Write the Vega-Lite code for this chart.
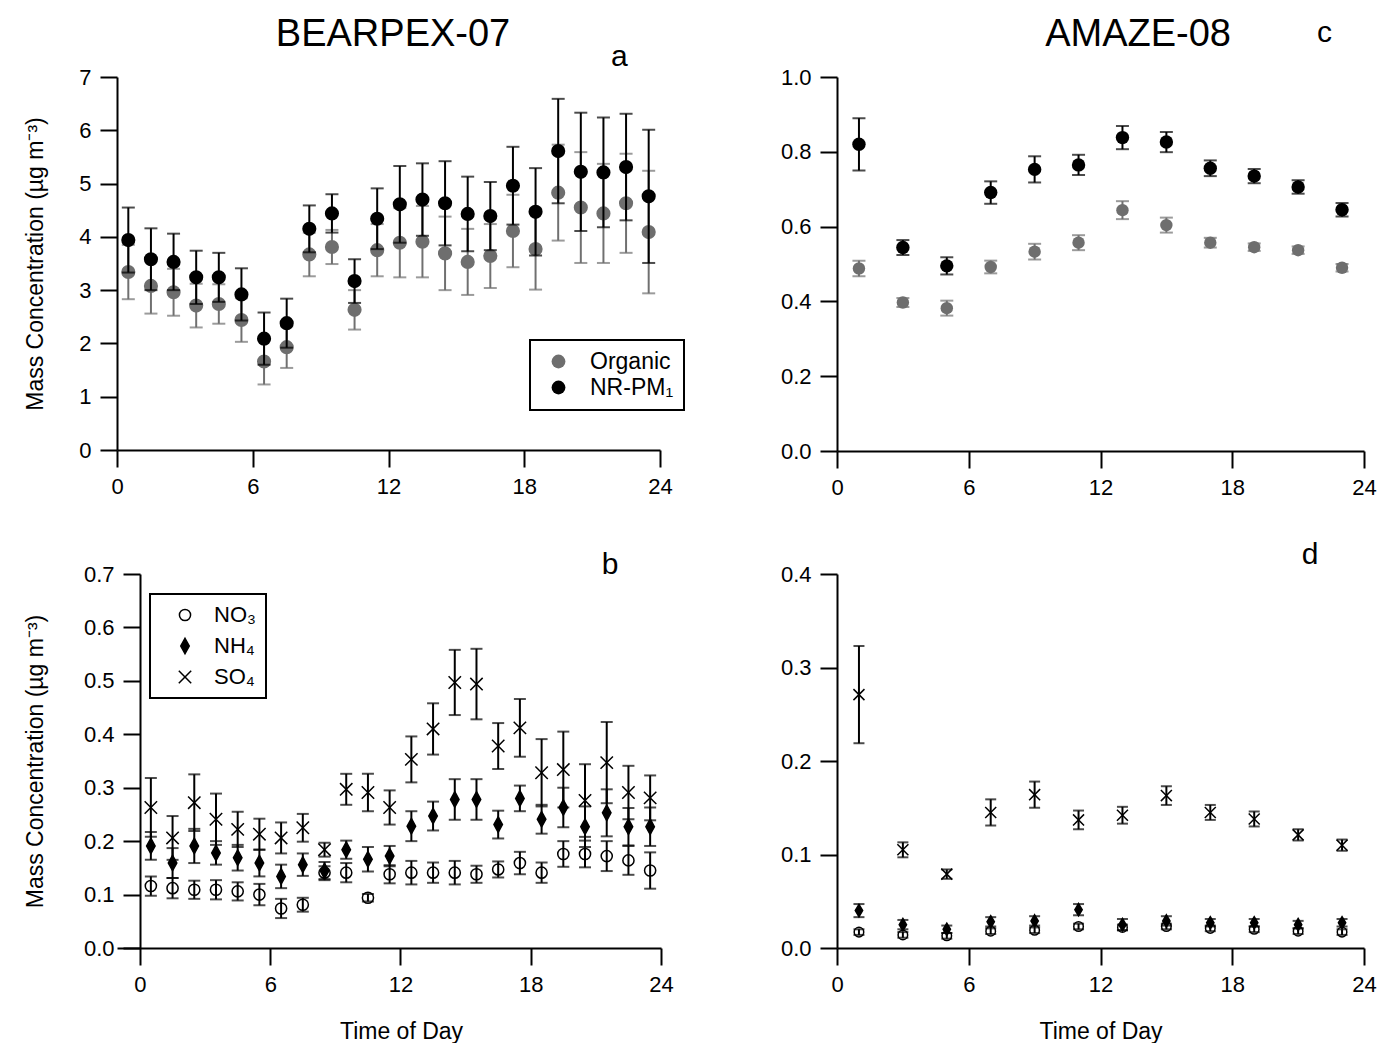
{
  "$schema": "https://vega.github.io/schema/vega-lite/v6.json",
  "padding": {"left": 24, "top": 15, "right": 0, "bottom": 0},
  "background": "white",
  "config": {
    "font": "Liberation Sans",
    "view": {"stroke": null},
    "axis": {"domainColor": "black", "domainWidth": 2, "tickColor": "black", "tickWidth": 2, "tickSize": 17, "labelFontSize": 22, "labelColor": "black", "labelPadding": 9, "labelFlush": false, "labelOverlap": false, "titleFontSize": 23, "titleFontWeight": "normal", "titleColor": "black", "grid": false},
    "legend": {"labelColor": "black", "strokeColor": "black", "strokeWidth": 2, "padding": 10, "title": null}
  },
  "datasets": {
    "pa": [
      {"series": "Organic", "hour": 0.5, "value": 3.34, "err": 0.51},
      {"series": "Organic", "hour": 1.5, "value": 3.08, "err": 0.52},
      {"series": "Organic", "hour": 2.5, "value": 2.96, "err": 0.44},
      {"series": "Organic", "hour": 3.5, "value": 2.71, "err": 0.41},
      {"series": "Organic", "hour": 4.5, "value": 2.74, "err": 0.37},
      {"series": "Organic", "hour": 5.5, "value": 2.44, "err": 0.41},
      {"series": "Organic", "hour": 6.5, "value": 1.66, "err": 0.43},
      {"series": "Organic", "hour": 7.5, "value": 1.93, "err": 0.39},
      {"series": "Organic", "hour": 8.5, "value": 3.67, "err": 0.41},
      {"series": "Organic", "hour": 9.5, "value": 3.81, "err": 0.32},
      {"series": "Organic", "hour": 10.5, "value": 2.63, "err": 0.37},
      {"series": "Organic", "hour": 11.5, "value": 3.75, "err": 0.49},
      {"series": "Organic", "hour": 12.5, "value": 3.89, "err": 0.65},
      {"series": "Organic", "hour": 13.5, "value": 3.91, "err": 0.67},
      {"series": "Organic", "hour": 14.5, "value": 3.69, "err": 0.69},
      {"series": "Organic", "hour": 15.5, "value": 3.53, "err": 0.62},
      {"series": "Organic", "hour": 16.5, "value": 3.64, "err": 0.60},
      {"series": "Organic", "hour": 17.5, "value": 4.11, "err": 0.68},
      {"series": "Organic", "hour": 18.5, "value": 3.77, "err": 0.76},
      {"series": "Organic", "hour": 19.5, "value": 4.83, "err": 0.90},
      {"series": "Organic", "hour": 20.5, "value": 4.55, "err": 1.04},
      {"series": "Organic", "hour": 21.5, "value": 4.44, "err": 0.93},
      {"series": "Organic", "hour": 22.5, "value": 4.63, "err": 0.93},
      {"series": "Organic", "hour": 23.5, "value": 4.09, "err": 1.15},
      {"series": "NR-PM₁", "hour": 0.5, "value": 3.94, "err": 0.61},
      {"series": "NR-PM₁", "hour": 1.5, "value": 3.58, "err": 0.58},
      {"series": "NR-PM₁", "hour": 2.5, "value": 3.53, "err": 0.53},
      {"series": "NR-PM₁", "hour": 3.5, "value": 3.24, "err": 0.50},
      {"series": "NR-PM₁", "hour": 4.5, "value": 3.24, "err": 0.46},
      {"series": "NR-PM₁", "hour": 5.5, "value": 2.92, "err": 0.49},
      {"series": "NR-PM₁", "hour": 6.5, "value": 2.09, "err": 0.49},
      {"series": "NR-PM₁", "hour": 7.5, "value": 2.38, "err": 0.46},
      {"series": "NR-PM₁", "hour": 8.5, "value": 4.15, "err": 0.44},
      {"series": "NR-PM₁", "hour": 9.5, "value": 4.44, "err": 0.36},
      {"series": "NR-PM₁", "hour": 10.5, "value": 3.17, "err": 0.41},
      {"series": "NR-PM₁", "hour": 11.5, "value": 4.34, "err": 0.57},
      {"series": "NR-PM₁", "hour": 12.5, "value": 4.61, "err": 0.72},
      {"series": "NR-PM₁", "hour": 13.5, "value": 4.70, "err": 0.68},
      {"series": "NR-PM₁", "hour": 14.5, "value": 4.63, "err": 0.79},
      {"series": "NR-PM₁", "hour": 15.5, "value": 4.43, "err": 0.70},
      {"series": "NR-PM₁", "hour": 16.5, "value": 4.39, "err": 0.64},
      {"series": "NR-PM₁", "hour": 17.5, "value": 4.96, "err": 0.73},
      {"series": "NR-PM₁", "hour": 18.5, "value": 4.47, "err": 0.82},
      {"series": "NR-PM₁", "hour": 19.5, "value": 5.61, "err": 0.98},
      {"series": "NR-PM₁", "hour": 20.5, "value": 5.22, "err": 1.11},
      {"series": "NR-PM₁", "hour": 21.5, "value": 5.21, "err": 1.03},
      {"series": "NR-PM₁", "hour": 22.5, "value": 5.31, "err": 1.00},
      {"series": "NR-PM₁", "hour": 23.5, "value": 4.76, "err": 1.25}
    ],
    "pb": [
      {"species": "NO₃", "hour": 0.5, "value": 0.116, "err": 0.018},
      {"species": "NO₃", "hour": 1.5, "value": 0.112, "err": 0.019},
      {"species": "NO₃", "hour": 2.5, "value": 0.109, "err": 0.017},
      {"species": "NO₃", "hour": 3.5, "value": 0.109, "err": 0.018},
      {"species": "NO₃", "hour": 4.5, "value": 0.106, "err": 0.017},
      {"species": "NO₃", "hour": 5.5, "value": 0.100, "err": 0.020},
      {"species": "NO₃", "hour": 6.5, "value": 0.074, "err": 0.018},
      {"species": "NO₃", "hour": 7.5, "value": 0.081, "err": 0.013},
      {"species": "NO₃", "hour": 8.5, "value": 0.141, "err": 0.012},
      {"species": "NO₃", "hour": 9.5, "value": 0.141, "err": 0.018},
      {"species": "NO₃", "hour": 10.5, "value": 0.094, "err": 0.007},
      {"species": "NO₃", "hour": 11.5, "value": 0.138, "err": 0.017},
      {"species": "NO₃", "hour": 12.5, "value": 0.141, "err": 0.022},
      {"species": "NO₃", "hour": 13.5, "value": 0.141, "err": 0.019},
      {"species": "NO₃", "hour": 14.5, "value": 0.141, "err": 0.022},
      {"species": "NO₃", "hour": 15.5, "value": 0.138, "err": 0.016},
      {"species": "NO₃", "hour": 16.5, "value": 0.147, "err": 0.015},
      {"species": "NO₃", "hour": 17.5, "value": 0.159, "err": 0.021},
      {"species": "NO₃", "hour": 18.5, "value": 0.141, "err": 0.019},
      {"species": "NO₃", "hour": 19.5, "value": 0.176, "err": 0.024},
      {"species": "NO₃", "hour": 20.5, "value": 0.176, "err": 0.025},
      {"species": "NO₃", "hour": 21.5, "value": 0.172, "err": 0.028},
      {"species": "NO₃", "hour": 22.5, "value": 0.164, "err": 0.027},
      {"species": "NO₃", "hour": 23.5, "value": 0.145, "err": 0.034},
      {"species": "NH₄", "hour": 0.5, "value": 0.191, "err": 0.026},
      {"species": "NH₄", "hour": 1.5, "value": 0.159, "err": 0.028},
      {"species": "NH₄", "hour": 2.5, "value": 0.191, "err": 0.032},
      {"species": "NH₄", "hour": 3.5, "value": 0.178, "err": 0.022},
      {"species": "NH₄", "hour": 4.5, "value": 0.169, "err": 0.024},
      {"species": "NH₄", "hour": 5.5, "value": 0.159, "err": 0.025},
      {"species": "NH₄", "hour": 6.5, "value": 0.134, "err": 0.022},
      {"species": "NH₄", "hour": 7.5, "value": 0.156, "err": 0.021},
      {"species": "NH₄", "hour": 8.5, "value": 0.144, "err": 0.017},
      {"species": "NH₄", "hour": 9.5, "value": 0.184, "err": 0.017},
      {"species": "NH₄", "hour": 10.5, "value": 0.166, "err": 0.023},
      {"species": "NH₄", "hour": 11.5, "value": 0.172, "err": 0.019},
      {"species": "NH₄", "hour": 12.5, "value": 0.228, "err": 0.028},
      {"species": "NH₄", "hour": 13.5, "value": 0.247, "err": 0.027},
      {"species": "NH₄", "hour": 14.5, "value": 0.278, "err": 0.038},
      {"species": "NH₄", "hour": 15.5, "value": 0.278, "err": 0.038},
      {"species": "NH₄", "hour": 16.5, "value": 0.231, "err": 0.026},
      {"species": "NH₄", "hour": 17.5, "value": 0.280, "err": 0.024},
      {"species": "NH₄", "hour": 18.5, "value": 0.241, "err": 0.027},
      {"species": "NH₄", "hour": 19.5, "value": 0.263, "err": 0.037},
      {"species": "NH₄", "hour": 20.5, "value": 0.227, "err": 0.038},
      {"species": "NH₄", "hour": 21.5, "value": 0.253, "err": 0.044},
      {"species": "NH₄", "hour": 22.5, "value": 0.227, "err": 0.035},
      {"species": "NH₄", "hour": 23.5, "value": 0.227, "err": 0.036},
      {"species": "SO₄", "hour": 0.5, "value": 0.263, "err": 0.055},
      {"species": "SO₄", "hour": 1.5, "value": 0.206, "err": 0.041},
      {"species": "SO₄", "hour": 2.5, "value": 0.272, "err": 0.053},
      {"species": "SO₄", "hour": 3.5, "value": 0.241, "err": 0.048},
      {"species": "SO₄", "hour": 4.5, "value": 0.222, "err": 0.033},
      {"species": "SO₄", "hour": 5.5, "value": 0.213, "err": 0.029},
      {"species": "SO₄", "hour": 6.5, "value": 0.206, "err": 0.029},
      {"species": "SO₄", "hour": 7.5, "value": 0.225, "err": 0.026},
      {"species": "SO₄", "hour": 8.5, "value": 0.184, "err": 0.013},
      {"species": "SO₄", "hour": 9.5, "value": 0.297, "err": 0.029},
      {"species": "SO₄", "hour": 10.5, "value": 0.291, "err": 0.035},
      {"species": "SO₄", "hour": 11.5, "value": 0.263, "err": 0.032},
      {"species": "SO₄", "hour": 12.5, "value": 0.353, "err": 0.043},
      {"species": "SO₄", "hour": 13.5, "value": 0.410, "err": 0.048},
      {"species": "SO₄", "hour": 14.5, "value": 0.497, "err": 0.061},
      {"species": "SO₄", "hour": 15.5, "value": 0.494, "err": 0.066},
      {"species": "SO₄", "hour": 16.5, "value": 0.378, "err": 0.043},
      {"species": "SO₄", "hour": 17.5, "value": 0.412, "err": 0.054},
      {"species": "SO₄", "hour": 18.5, "value": 0.328, "err": 0.063},
      {"species": "SO₄", "hour": 19.5, "value": 0.334, "err": 0.071},
      {"species": "SO₄", "hour": 20.5, "value": 0.276, "err": 0.068},
      {"species": "SO₄", "hour": 21.5, "value": 0.347, "err": 0.076},
      {"species": "SO₄", "hour": 22.5, "value": 0.291, "err": 0.050},
      {"species": "SO₄", "hour": 23.5, "value": 0.281, "err": 0.042}
    ],
    "pc": [
      {"series": "Organic", "hour": 1, "value": 0.488, "err": 0.021},
      {"series": "Organic", "hour": 3, "value": 0.397, "err": 0.012},
      {"series": "Organic", "hour": 5, "value": 0.382, "err": 0.020},
      {"series": "Organic", "hour": 7, "value": 0.492, "err": 0.017},
      {"series": "Organic", "hour": 9, "value": 0.533, "err": 0.021},
      {"series": "Organic", "hour": 11, "value": 0.557, "err": 0.020},
      {"series": "Organic", "hour": 13, "value": 0.644, "err": 0.024},
      {"series": "Organic", "hour": 15, "value": 0.604, "err": 0.020},
      {"series": "Organic", "hour": 17, "value": 0.557, "err": 0.013},
      {"series": "Organic", "hour": 19, "value": 0.545, "err": 0.010},
      {"series": "Organic", "hour": 21, "value": 0.537, "err": 0.010},
      {"series": "Organic", "hour": 23, "value": 0.490, "err": 0.010},
      {"series": "NR-PM₁", "hour": 1, "value": 0.820, "err": 0.070},
      {"series": "NR-PM₁", "hour": 3, "value": 0.544, "err": 0.020},
      {"series": "NR-PM₁", "hour": 5, "value": 0.495, "err": 0.023},
      {"series": "NR-PM₁", "hour": 7, "value": 0.691, "err": 0.030},
      {"series": "NR-PM₁", "hour": 9, "value": 0.753, "err": 0.035},
      {"series": "NR-PM₁", "hour": 11, "value": 0.765, "err": 0.027},
      {"series": "NR-PM₁", "hour": 13, "value": 0.838, "err": 0.031},
      {"series": "NR-PM₁", "hour": 15, "value": 0.826, "err": 0.027},
      {"series": "NR-PM₁", "hour": 17, "value": 0.756, "err": 0.021},
      {"series": "NR-PM₁", "hour": 19, "value": 0.735, "err": 0.019},
      {"series": "NR-PM₁", "hour": 21, "value": 0.706, "err": 0.018},
      {"series": "NR-PM₁", "hour": 23, "value": 0.645, "err": 0.018}
    ],
    "pd": [
      {"species": "NO₃", "hour": 1, "value": 0.017, "err": 0.003},
      {"species": "NO₃", "hour": 3, "value": 0.014, "err": 0.003},
      {"species": "NO₃", "hour": 5, "value": 0.013, "err": 0.003},
      {"species": "NO₃", "hour": 7, "value": 0.018, "err": 0.003},
      {"species": "NO₃", "hour": 9, "value": 0.019, "err": 0.003},
      {"species": "NO₃", "hour": 11, "value": 0.023, "err": 0.003},
      {"species": "NO₃", "hour": 13, "value": 0.022, "err": 0.003},
      {"species": "NO₃", "hour": 15, "value": 0.023, "err": 0.003},
      {"species": "NO₃", "hour": 17, "value": 0.021, "err": 0.003},
      {"species": "NO₃", "hour": 19, "value": 0.020, "err": 0.003},
      {"species": "NO₃", "hour": 21, "value": 0.018, "err": 0.003},
      {"species": "NO₃", "hour": 23, "value": 0.017, "err": 0.003},
      {"species": "NH₄", "hour": 1, "value": 0.040, "err": 0.007},
      {"species": "NH₄", "hour": 3, "value": 0.025, "err": 0.005},
      {"species": "NH₄", "hour": 5, "value": 0.020, "err": 0.004},
      {"species": "NH₄", "hour": 7, "value": 0.028, "err": 0.005},
      {"species": "NH₄", "hour": 9, "value": 0.029, "err": 0.005},
      {"species": "NH₄", "hour": 11, "value": 0.041, "err": 0.006},
      {"species": "NH₄", "hour": 13, "value": 0.025, "err": 0.006},
      {"species": "NH₄", "hour": 15, "value": 0.029, "err": 0.005},
      {"species": "NH₄", "hour": 17, "value": 0.027, "err": 0.004},
      {"species": "NH₄", "hour": 19, "value": 0.027, "err": 0.004},
      {"species": "NH₄", "hour": 21, "value": 0.025, "err": 0.004},
      {"species": "NH₄", "hour": 23, "value": 0.027, "err": 0.004},
      {"species": "SO₄", "hour": 1, "value": 0.271, "err": 0.052},
      {"species": "SO₄", "hour": 3, "value": 0.105, "err": 0.008},
      {"species": "SO₄", "hour": 5, "value": 0.079, "err": 0.005},
      {"species": "SO₄", "hour": 7, "value": 0.145, "err": 0.014},
      {"species": "SO₄", "hour": 9, "value": 0.164, "err": 0.014},
      {"species": "SO₄", "hour": 11, "value": 0.137, "err": 0.010},
      {"species": "SO₄", "hour": 13, "value": 0.142, "err": 0.009},
      {"species": "SO₄", "hour": 15, "value": 0.163, "err": 0.010},
      {"species": "SO₄", "hour": 17, "value": 0.145, "err": 0.008},
      {"species": "SO₄", "hour": 19, "value": 0.138, "err": 0.008},
      {"species": "SO₄", "hour": 21, "value": 0.121, "err": 0.006},
      {"species": "SO₄", "hour": 23, "value": 0.110, "err": 0.006}
    ]
  },
  "spacing": 95,
  "resolve": {"scale": {"color": "independent", "shape": "independent", "fill": "independent"}},
  "hconcat": [
    {
      "spacing": 53,
      "resolve": {"scale": {"color": "independent", "shape": "independent", "fill": "independent"}},
      "vconcat": [
        {
          "width": 543, "height": 373,
          "data": {"name": "pa"},
          "encoding": {
            "x": {"field": "hour", "type": "quantitative", "scale": {"domain": [0, 24], "nice": false}, "axis": {"values": [0, 6, 12, 18, 24], "title": null}},
            "y": {"field": "value", "type": "quantitative", "scale": {"domain": [0, 7], "nice": false}, "axis": {"values": [0, 1, 2, 3, 4, 5, 6, 7], "title": "Mass Concentration (µg m⁻³)", "titlePadding": 31}}
          },
          "layer": [
            {"transform": [{"filter": "datum.series === 'Organic'"}], "mark": {"type": "errorbar", "color": "#707070", "ticks": {"size": 13, "thickness": 2}, "rule": {"strokeWidth": 2}}, "encoding": {"yError": {"field": "err"}}},
            {"transform": [{"filter": "datum.series === 'Organic'"}], "mark": {"type": "point", "filled": true, "size": 200, "opacity": 1}, "encoding": {"color": {"field": "series", "type": "nominal", "scale": {"domain": ["Organic", "NR-PM₁"], "range": ["#6e6e6e", "#000000"]}, "legend": {"orient": "none", "legendX": 413, "legendY": 263, "symbolSize": 190, "symbolType": "circle", "symbolOpacity": 1, "labelFontSize": 23, "symbolOffset": 7, "labelOffset": 20, "rowPadding": 2}}}},
            {"transform": [{"filter": "datum.series !== 'Organic'"}], "mark": {"type": "errorbar", "color": "#000000", "ticks": {"size": 13, "thickness": 2}, "rule": {"strokeWidth": 2}}, "encoding": {"yError": {"field": "err"}}},
            {"transform": [{"filter": "datum.series !== 'Organic'"}], "mark": {"type": "point", "filled": true, "size": 200, "opacity": 1}, "encoding": {"color": {"field": "series", "type": "nominal"}}},
            {"transform": [{"filter": "datum.series === 'Organic' && datum.hour === 0.5"}], "mark": {"type": "text", "fontSize": 30, "fill": "black"}, "encoding": {"x": {"datum": 22.2, "type": "quantitative"}, "y": {"datum": 7.37, "type": "quantitative"}, "text": {"value": "a"}}},
            {"transform": [{"filter": "datum.series === 'Organic' && datum.hour === 0.5"}], "mark": {"type": "text", "fontSize": 38, "fill": "black"}, "encoding": {"x": {"datum": 12.2, "type": "quantitative"}, "y": {"datum": 7.79, "type": "quantitative"}, "text": {"value": "BEARPEX-07"}}}
          ]
        },
        {
          "width": 544, "height": 374,
          "data": {"name": "pb"},
          "encoding": {
            "x": {"field": "hour", "type": "quantitative", "scale": {"domain": [-1.0595, 24], "nice": false}, "axis": {"values": [0, 6, 12, 18, 24], "title": "Time of Day", "titlePadding": 25, "titleX": 284}},
            "y": {"field": "value", "type": "quantitative", "scale": {"domain": [0, 0.7], "nice": false}, "axis": {"values": [0, 0.1, 0.2, 0.3, 0.4, 0.5, 0.6, 0.7], "format": ".1f", "offset": -23, "title": "Mass Concentration (µg m⁻³)", "titlePadding": 36}}
          },
          "layer": [
            {"mark": {"type": "errorbar", "color": "#000000", "ticks": {"size": 12, "thickness": 2}, "rule": {"strokeWidth": 2}}, "encoding": {"yError": {"field": "err"}, "detail": {"field": "species"}}},
            {"mark": {"type": "point", "filled": false, "color": "black", "strokeWidth": 1.5, "opacity": 1, "size": 240},
             "encoding": {
               "shape": {"field": "species", "type": "nominal", "scale": {"domain": ["NO₃", "NH₄", "SO₄"], "range": ["M0.72,0A0.72,0.72,0,1,1,-0.72,0A0.72,0.72,0,1,1,0.72,0Z", "M0,-1L0.55,0L0,1L-0.55,0Z", "M-0.8,-0.8L0.8,0.8M-0.8,0.8L0.8,-0.8"]}, "legend": {"orient": "none", "legendX": 33, "legendY": 20, "symbolSize": 240, "symbolStrokeWidth": 1.5, "labelFontSize": 22, "rowPadding": 9, "symbolOffset": 14, "labelOffset": 18}},
               "fill": {"field": "species", "type": "nominal", "scale": {"domain": ["NO₃", "NH₄", "SO₄"], "range": ["transparent", "black", "transparent"]}, "legend": {"orient": "none", "legendX": 33, "legendY": 20, "symbolSize": 240, "symbolStrokeWidth": 1.5, "labelFontSize": 22, "rowPadding": 9, "symbolOffset": 14, "labelOffset": 18}},
               "stroke": {"value": "black"},
               "strokeWidth": {"value": 1.5}
             }},
            {"transform": [{"filter": "datum.species === 'SO₄' && datum.hour === 0.5"}], "mark": {"type": "text", "fontSize": 30, "fill": "black"}, "encoding": {"x": {"datum": 21.65, "type": "quantitative"}, "y": {"datum": 0.716, "type": "quantitative"}, "text": {"value": "b"}}}
          ]
        }
      ]
    },
    {
      "spacing": 42,
      "resolve": {"scale": {"color": "independent", "shape": "independent", "fill": "independent"}},
      "vconcat": [
        {
          "width": 527, "height": 374,
          "data": {"name": "pc"},
          "encoding": {
            "x": {"field": "hour", "type": "quantitative", "scale": {"domain": [0, 24], "nice": false}, "axis": {"values": [0, 6, 12, 18, 24], "title": null}},
            "y": {"field": "value", "type": "quantitative", "scale": {"domain": [0, 1], "nice": false}, "axis": {"values": [0, 0.2, 0.4, 0.6, 0.8, 1.0], "format": ".1f", "title": null}}
          },
          "layer": [
            {"transform": [{"filter": "datum.series === 'Organic'"}], "mark": {"type": "errorbar", "color": "#707070", "ticks": {"size": 13, "thickness": 2}, "rule": {"strokeWidth": 2}}, "encoding": {"yError": {"field": "err"}}},
            {"transform": [{"filter": "datum.series === 'Organic'"}], "mark": {"type": "point", "filled": true, "size": 155, "opacity": 1, "color": "#6e6e6e"}},
            {"transform": [{"filter": "datum.series !== 'Organic'"}], "mark": {"type": "errorbar", "color": "#000000", "ticks": {"size": 13, "thickness": 2}, "rule": {"strokeWidth": 2}}, "encoding": {"yError": {"field": "err"}}},
            {"transform": [{"filter": "datum.series !== 'Organic'"}], "mark": {"type": "point", "filled": true, "size": 180, "opacity": 1, "color": "#000000"}},
            {"transform": [{"filter": "datum.series === 'Organic' && datum.hour === 1"}], "mark": {"type": "text", "fontSize": 30, "fill": "black"}, "encoding": {"x": {"datum": 22.2, "type": "quantitative"}, "y": {"datum": 1.118, "type": "quantitative"}, "text": {"value": "c"}}},
            {"transform": [{"filter": "datum.series === 'Organic' && datum.hour === 1"}], "mark": {"type": "text", "fontSize": 38, "fill": "black"}, "encoding": {"x": {"datum": 13.71, "type": "quantitative"}, "y": {"datum": 1.111, "type": "quantitative"}, "text": {"value": "AMAZE-08"}}}
          ]
        },
        {
          "width": 527, "height": 374,
          "data": {"name": "pd"},
          "encoding": {
            "x": {"field": "hour", "type": "quantitative", "scale": {"domain": [0, 24], "nice": false}, "axis": {"values": [0, 6, 12, 18, 24], "title": "Time of Day", "titlePadding": 25}},
            "y": {"field": "value", "type": "quantitative", "scale": {"domain": [0, 0.4], "nice": false}, "axis": {"values": [0, 0.1, 0.2, 0.3, 0.4], "format": ".1f", "title": null}}
          },
          "layer": [
            {"mark": {"type": "errorbar", "color": "#000000", "ticks": {"size": 11, "thickness": 2}, "rule": {"strokeWidth": 2}}, "encoding": {"yError": {"field": "err"}, "detail": {"field": "species"}}},
            {"mark": {"type": "point", "filled": false, "color": "black", "strokeWidth": 1.5, "opacity": 1, "size": 150},
             "encoding": {
               "shape": {"field": "species", "type": "nominal", "scale": {"domain": ["NO₃", "NH₄", "SO₄"], "range": ["M0.78,0A0.78,0.78,0,1,1,-0.78,0A0.78,0.78,0,1,1,0.78,0Z", "M0,-1L0.6,0L0,1L-0.6,0Z", "M-0.9,-0.9L0.9,0.9M-0.9,0.9L0.9,-0.9"]}, "legend": null},
               "fill": {"field": "species", "type": "nominal", "scale": {"domain": ["NO₃", "NH₄", "SO₄"], "range": ["transparent", "black", "transparent"]}, "legend": null},
               "stroke": {"value": "black"}
             }},
            {"transform": [{"filter": "datum.species === 'SO₄' && datum.hour === 1"}], "mark": {"type": "text", "fontSize": 30, "fill": "black"}, "encoding": {"x": {"datum": 21.54, "type": "quantitative"}, "y": {"datum": 0.42, "type": "quantitative"}, "text": {"value": "d"}}}
          ]
        }
      ]
    }
  ]
}
